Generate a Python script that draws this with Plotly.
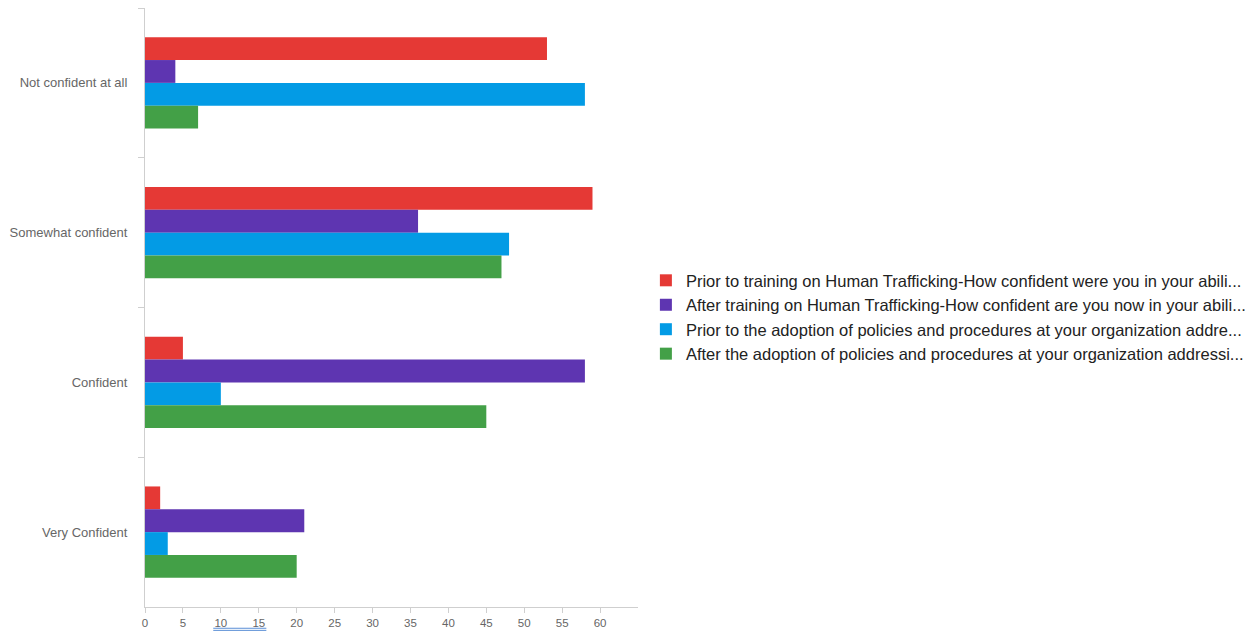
import plotly.graph_objects as go

categories = ["Not confident at all", "Somewhat confident", "Confident", "Very Confident"]
series_names = [
    "Prior to training on Human Trafficking-How confident were you in your abili...",
    "After training on Human Trafficking-How confident are you now in your abili...",
    "Prior to the adoption of policies and procedures at your organization addre...",
    "After the adoption of policies and procedures at your organization addressi...",
]
prior_training = [53, 59, 5, 2]
after_training = [4, 36, 58, 21]
prior_policies = [58, 48, 10, 3]
after_policies = [7, 47, 45, 20]
x_ticks = [0, 5, 10, 15, 20, 25, 30, 35, 40, 45, 50, 55, 60]

colors = ["#e53935", "#5e35b1", "#039be5", "#43a047"]
values = [prior_training, after_training, prior_policies, after_policies]

fig = go.Figure()
for i, (name, vals, col) in enumerate(zip(series_names, values, colors)):
    fig.add_trace(go.Bar(
        y=categories, x=vals, name=name, orientation="h",
        marker=dict(color=col, line=dict(width=0)),
        legendgroup=f"g{i}",
    ))

fig.update_layout(
    width=1257, height=632,
    margin=dict(l=145, r=619, t=8, b=25, autoexpand=False),
    paper_bgcolor="white", plot_bgcolor="white",
    barmode="group", bargap=0.39, bargroupgap=0,
    font=dict(family="Liberation Sans, Arial, sans-serif", color="#555"),
    legend=dict(
        x=1.016, y=0.484, xanchor="left", yanchor="middle",
        traceorder="grouped", tracegroupgap=0,
        font=dict(size=16.5, color="#222"),
        itemwidth=30,
    ),
    showlegend=True,
)
fig.update_xaxes(
    range=[0, 65], tickvals=x_ticks, ticktext=[str(t) for t in x_ticks],
    showgrid=False, zeroline=False, automargin=False,
    showline=True, linecolor="#cfcfcf", linewidth=1,
    ticks="outside", ticklen=5, tickcolor="#cfcfcf",
    tickfont=dict(size=11.5, color="#666"),
)
fig.update_yaxes(
    categoryorder="array", categoryarray=categories, autorange="reversed",
    showgrid=False, zeroline=False, automargin=False,
    showline=True, linecolor="#cfcfcf", linewidth=1,
    ticks="outside", ticklen=6, tickcolor="#cfcfcf", tickson="boundaries",
    tickfont=dict(size=13, color="#666"),
    ticklabelstandoff=14,
)
# faint blue double underline artifact under "10 15"
for yy in (-0.0355, -0.039):
    fig.add_shape(type="line", xref="x", yref="paper", x0=9, x1=16, y0=yy, y1=yy,
                  line=dict(color="#5b8fd6", width=1))
fig.write_html("out.html")
